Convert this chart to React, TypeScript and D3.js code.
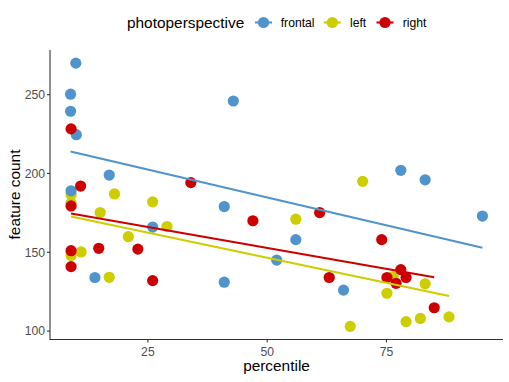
import React from "react";
import * as d3 from "d3";

const groups = ["frontal", "left", "right"];
const colors = ["#4F94CD", "#CDCD00", "#CD0000"];

const frontalX = [9.9, 8.8, 8.8, 10.0, 16.9, 8.9, 42.9, 41.0, 56.0, 52.0, 41.0, 66.0, 78.0, 83.1, 95.1, 13.9, 26.0];
const frontalY = [270, 250.3, 239.5, 224.6, 199, 189, 246, 179, 158, 145, 131, 126, 202, 196, 173, 134, 166];

const leftX = [8.9, 18.0, 26.0, 8.9, 15.0, 29.0, 20.9, 11.0, 8.9, 16.9, 56.0, 67.4, 70.0, 83.1, 75.1, 79.1, 82.1, 88.1, 76.4];
const leftY = [186.7, 187, 182, 181.3, 175.2, 166.3, 159.9, 150.2, 148, 134.1, 171, 103, 195, 130, 124, 106, 108, 109, 134.5];

const rightX = [8.9, 10.9, 34.0, 8.9, 8.9, 8.9, 14.7, 22.9, 26.0, 47.0, 61.0, 63.0, 74.0, 78.0, 75.1, 79.1, 77.0, 85.0];
const rightY = [228.3, 192, 194.2, 179.4, 151, 140.9, 152.5, 152, 132, 170, 175.2, 134, 158, 139, 134, 134, 130.3, 114.8];

// fitted linear trend (start/end)
const fitX = [[8.8, 95.1], [8.9, 88.1], [8.9, 85.0]];
const fitY = [[213.9, 152.9], [172.7, 122.2], [174.6, 134.1]];

const xTicks = [25, 50, 75];
const yTicks = [100, 150, 200, 250];

const W = 509;
const H = 382;
const FONT = "'Liberation Sans', Arial, Helvetica, sans-serif";

export default function App() {
  const allX = [...frontalX, ...leftX, ...rightX];
  const allY = [...frontalY, ...leftY, ...rightY];
  const expand = (v: number[]) => {
    const [a, b] = d3.extent(v) as [number, number];
    const e = (b - a) * 0.05;
    return [a - e, b + e];
  };
  const x = d3.scaleLinear().domain(expand(allX)).range([50, 503]);
  const y = d3.scaleLinear().domain(expand(allY)).range([339.5, 50]);

  const series = [
    { xs: frontalX, ys: frontalY },
    { xs: leftX, ys: leftY },
    { xs: rightX, ys: rightY },
  ];
  const drawOrder = [1, 0, 2];
  const line = d3
    .line<[number, number]>()
    .x((d) => x(d[0]))
    .y((d) => y(d[1]));

  const legendKeys = [263.5, 332.3, 385];
  const legendText = [280.7, 350, 402.7];

  return (
    <svg
      width={W}
      height={H}
      style={{ position: "absolute", left: 0, top: 0, background: "#fff" }}
      fontFamily={FONT}
    >
      <rect x={0} y={0} width={W} height={H} fill="#fff" />
      {/* points */}
      {drawOrder.map((gi) =>
        series[gi].xs.map((xv, i) => (
          <circle
            key={`${gi}-${i}`}
            cx={x(xv)}
            cy={y(series[gi].ys[i])}
            r={5.6}
            fill={colors[gi]}
          />
        ))
      )}
      {/* trend lines */}
      {groups.map((g, gi) => (
        <path
          key={g}
          d={line(fitX[gi].map((v, j) => [v, fitY[gi][j]]) as [number, number][]) || ""}
          stroke={colors[gi]}
          strokeWidth={2.1}
          fill="none"
        />
      ))}
      {/* axes */}
      <line x1={50} x2={50} y1={50} y2={339.5} stroke="#333" strokeWidth={1.1} />
      <line x1={49.5} x2={503} y1={339.5} y2={339.5} stroke="#333" strokeWidth={1.1} />
      {yTicks.map((t) => (
        <g key={t}>
          <line x1={47} x2={50} y1={y(t)} y2={y(t)} stroke="#333" strokeWidth={1.1} />
          <text x={45} y={y(t)} dy="0.35em" textAnchor="end" fontSize={12.2} fill="#4D4D4D">
            {t}
          </text>
        </g>
      ))}
      {xTicks.map((t) => (
        <g key={t}>
          <line x1={x(t)} x2={x(t)} y1={339.5} y2={342.5} stroke="#333" strokeWidth={1.1} />
          <text x={x(t)} y={355.5} textAnchor="middle" fontSize={12.2} fill="#4D4D4D">
            {t}
          </text>
        </g>
      ))}
      <text x={276.5} y={371} textAnchor="middle" fontSize={15.4} fill="#000">
        percentile
      </text>
      <text
        transform={`translate(19.5,194.5) rotate(-90)`}
        textAnchor="middle"
        fontSize={15.4}
        fill="#000"
      >
        feature count
      </text>
      {/* legend */}
      <text x={127} y={27.5} fontSize={15.4} fill="#000">
        photoperspective
      </text>
      {groups.map((g, gi) => (
        <g key={g}>
          <line
            x1={legendKeys[gi] - 8.5}
            x2={legendKeys[gi] + 8.5}
            y1={22.5}
            y2={22.5}
            stroke={colors[gi]}
            strokeWidth={2.1}
          />
          <circle cx={legendKeys[gi]} cy={22.5} r={5.6} fill={colors[gi]} />
          <text x={legendText[gi]} y={26.8} fontSize={12.2} fill="#000">
            {g}
          </text>
        </g>
      ))}
    </svg>
  );
}
